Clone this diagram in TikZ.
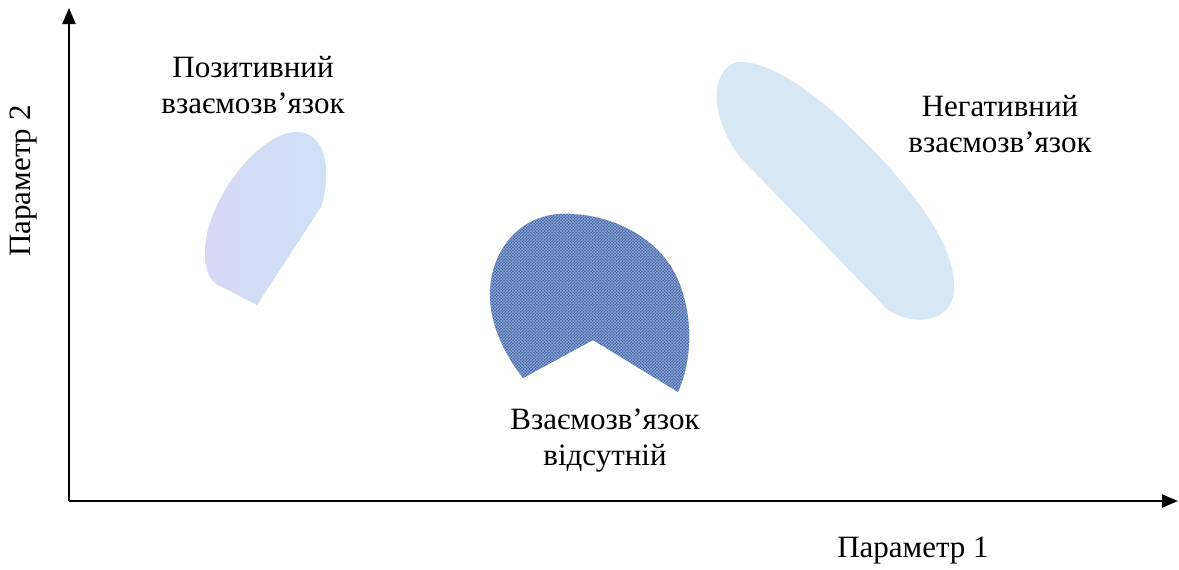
\documentclass[tikz,border=0pt]{standalone}
\usepackage{fontspec}
\setmainfont{Liberation Serif}
\usetikzlibrary{arrows.meta,positioning,patterns}

\definecolor{posfill}{RGB}{214,216,244}
\definecolor{posfillb}{RGB}{206,226,246}
\definecolor{denim}{RGB}{72,100,160}
\definecolor{denimlt}{RGB}{140,170,222}
\definecolor{negfill}{RGB}{216,231,245}

\begin{document}
\begin{tikzpicture}[
  x=1pt, y=-1pt,
  lbl/.style={align=center, font=\fontsize{31}{36}\selectfont, inner sep=0pt},
  axis/.style={-{Triangle[length=16pt, width=13pt]}, line width=2.2pt},
  blob/.style={draw=none}
]
\useasboundingbox (0,0) rectangle (1179,570);

% axes
\coordinate (O) at (69,501);
\coordinate (ytop) at (69,8);
\coordinate (xend) at (1178,501);
\draw[axis] (O.center) -- (ytop);
\draw[axis] (O.center) -- (xend);
\node[lbl] (xlab) at (913,551) {Параметр 1};
\node[lbl, rotate=90] (ylab) at (24,181) {Параметр 2};

% positive region
\path[blob, left color=posfill, right color=posfillb]
  (257,305) -- (321,207) .. controls (330,180) and (330,136) .. (300,132)
  .. controls (262,128) and (205,200) .. (205,252)
  .. controls (205,272) and (210,280) .. (218,285) -- cycle;
\node[lbl] (pos) at (253,85) {Позитивний\\взаємозв’язок};

% no correlation region
\path[blob, fill=denim]
  (593,340) -- (678,392) .. controls (692,360) and (693,320) .. (680,285)
  .. controls (665,242) and (615,212) .. (560,214)
  .. controls (520,216) and (490,250) .. (490,295)
  .. controls (490,325) and (505,355) .. (523,378) -- cycle;
\path[blob, pattern=crosshatch, pattern color=denimlt]
  (593,340) -- (678,392) .. controls (692,360) and (693,320) .. (680,285)
  .. controls (665,242) and (615,212) .. (560,214)
  .. controls (520,216) and (490,250) .. (490,295)
  .. controls (490,325) and (505,355) .. (523,378) -- cycle;
\node[lbl] (none) at (605,441) {Взаємозв’язок\\відсутній};

% negative region
\path[blob, fill=negfill]
  (740,157) -- (888,310) .. controls (912,326) and (952,324) .. (954,290)
  .. controls (956,252) and (925,205) .. (875,152)
  .. controls (825,100) and (775,62) .. (740,62)
  .. controls (718,63) and (712,95) .. (720,118)
  .. controls (725,135) and (733,148) .. (740,157) -- cycle;
\node[lbl] (neg) at (1000,124) {Негативний\\взаємозв’язок};
\end{tikzpicture}
\end{document}
